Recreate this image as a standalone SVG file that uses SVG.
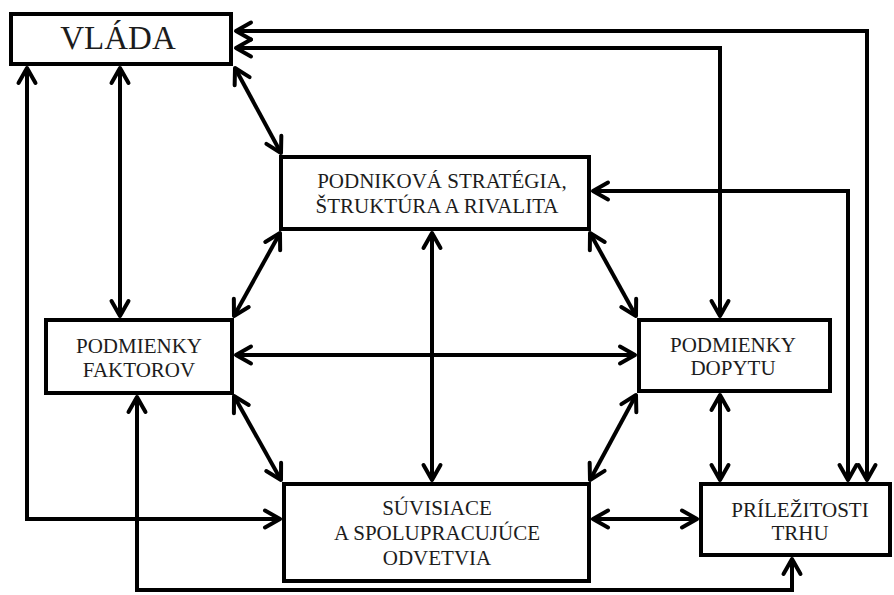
<svg xmlns="http://www.w3.org/2000/svg" width="894" height="595" viewBox="0 0 894 595">
<style>
.box{fill:#fff;stroke:#000;stroke-width:4}
.t{font-family:"Liberation Serif","Times New Roman",serif;font-size:21px;fill:#1c1c1c;text-anchor:middle}
.c{fill:none;stroke:#000;stroke-width:4;stroke-linejoin:miter;marker-start:url(#a);marker-end:url(#a)}
</style>
<defs>
<marker id="a" markerUnits="userSpaceOnUse" viewBox="-20 -12 24 24" refX="0" refY="0" markerWidth="24" markerHeight="24" orient="auto-start-reverse" overflow="visible">
<path d="M-15,-8.5 L0,0 L-15,8.5" fill="none" stroke="#000" stroke-width="4" stroke-linecap="round" stroke-linejoin="round"/>
</marker>
</defs>
<rect width="894" height="595" fill="#fff"/>
<g id="connectors">
<path class="c" d="M27,68 V519 H280"/>
<path class="c" d="M120,68 V316"/>
<path class="c" d="M235,68 L281,153"/>
<path class="c" d="M236,31 H867 V480"/>
<path class="c" d="M236,48 H720 V316"/>
<path class="c" d="M593,191 H848 V480"/>
<path class="c" d="M280,233 L234,316"/>
<path class="c" d="M590,233 L636,316"/>
<path class="c" d="M432,233 V480"/>
<path class="c" d="M236,355 H635"/>
<path class="c" d="M234,396 L281,480"/>
<path class="c" d="M636,395 L590,480"/>
<path class="c" d="M720,395 V480"/>
<path class="c" d="M593,519 H697"/>
<path class="c" d="M137,397 V590 H792 V559"/>
</g>
<g id="vlada">
<rect class="box" x="11" y="14" width="220" height="50"/>
<text class="t" x="118" y="49" style="font-size:33px">VLÁDA</text>
</g>
<g id="strategia">
<rect class="box" x="281" y="157" width="308" height="72"/>
<text class="t" x="442" y="188">PODNIKOVÁ STRATÉGIA,</text>
<text class="t" x="437" y="213">ŠTRUKTÚRA A RIVALITA</text>
</g>
<g id="faktory">
<rect class="box" x="46" y="320" width="186" height="73"/>
<text class="t" x="139" y="353">PODMIENKY</text>
<text class="t" x="139" y="377">FAKTOROV</text>
</g>
<g id="dopyt">
<rect class="box" x="639" y="320" width="191" height="71"/>
<text class="t" x="733" y="352">PODMIENKY</text>
<text class="t" x="733" y="375">DOPYTU</text>
</g>
<g id="odvetvia">
<rect class="box" x="284" y="484" width="305" height="97"/>
<text class="t" x="437" y="515">SÚVISIACE</text>
<text class="t" x="437" y="540">A SPOLUPRACUJÚCE</text>
<text class="t" x="437" y="565">ODVETVIA</text>
</g>
<g id="prilezitosti">
<rect class="box" x="701" y="484" width="189" height="71"/>
<text class="t" x="800" y="517">PRÍLEŽITOSTI</text>
<text class="t" x="800" y="540">TRHU</text>
</g>
</svg>
